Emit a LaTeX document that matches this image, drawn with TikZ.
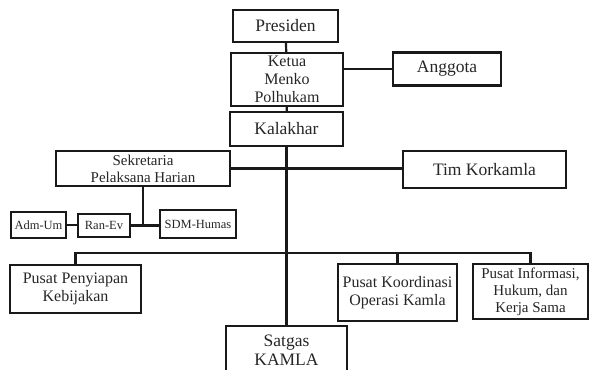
\documentclass[tikz,border=0pt]{standalone}
\usepackage{fontspec}
\setmainfont{Liberation Serif}
\newfontfamily\tms{Liberation Serif}
\begin{document}
\begin{tikzpicture}[x=1pt,y=-1pt,
  box/.style={draw=black!90, line width=2.2pt, rectangle, inner sep=0pt, align=center, text=black!85},
  big/.style={font=\tms\fontsize{17.5}{19}\selectfont},
  mid/.style={font=\tms\fontsize{16}{18}\selectfont},
  sml/.style={font=\tms\fontsize{15}{17}\selectfont},
  tiny/.style={font=\tms\fontsize{12.5}{14}\selectfont},
  conn/.style={draw=black!90, line width=2.2pt}]
\useasboundingbox (0,0) rectangle (590,370);
\node[box,big,minimum width=105pt,minimum height=32pt] (pres) at (285.5,26) {Presiden};
\node[box,mid,minimum width=112pt,minimum height=53pt] (ketua) at (287,79.5) {Ketua\\Menko\\Polhukam};
\node[box,big,minimum width=108pt,minimum height=33pt] (angg) at (447,69) {Anggota};
\node[box,big,minimum width=113pt,minimum height=34pt] (kal) at (286.5,129) {Kalakhar};
\node[box,sml,minimum width=174pt,minimum height=35pt] (sek) at (143,168.5) {Sekretaria\\Pelaksana Harian};
\node[box,big,minimum width=163pt,minimum height=37pt] (tim) at (484.5,169.5) {Tim Korkamla};
\node[box,tiny,minimum width=55pt,minimum height=26pt] (adm) at (38.5,225) {Adm-Um};
\node[box,tiny,minimum width=52pt,minimum height=23pt] (ran) at (104,225.5) {Ran-Ev};
\node[box,tiny,minimum width=76pt,minimum height=28pt] (sdm) at (198,224) {SDM-Humas};
\node[box,mid,minimum width=131pt,minimum height=48pt] (pp) at (75.5,289) {Pusat Penyiapan\\Kebijakan};
\node[box,mid,minimum width=119pt,minimum height=57pt] (pk) at (397.5,292.5) {Pusat Koordinasi\\Operasi Kamla};
\node[box,sml,minimum width=115pt,minimum height=55pt] (pi) at (530.5,291.5) {Pusat Informasi,\\Hukum, dan\\Kerja Sama};
\node[box,big,minimum width=121pt,minimum height=48pt] (sat) at (286.5,350) {Satgas\\KAMLA};
\coordinate (bus) at (286.5,253);
\coordinate (sj) at (143,225);
% connectors
\draw[conn] (pres) -- (ketua);
\draw[conn] (angg.west) -- (angg.west -| ketua.east);
\draw[conn] (ketua) -- (kal);
\draw[conn] (kal) -- (sat);
\draw[conn] (sek.east) -- (sek.east -| tim.west);
\draw[conn] (sek.south) -- (sj);
\draw[conn] (ran.east) -- (ran.east -| sdm.west);
\draw[conn] (adm.east) -- (adm.east -| ran.west);
\draw[conn] (pp.north) -- (pp.north |- bus) -- (pi.north |- bus) -- (pi.north);
\draw[conn] (pk.north) -- (pk.north |- bus);
\end{tikzpicture}
\end{document}
